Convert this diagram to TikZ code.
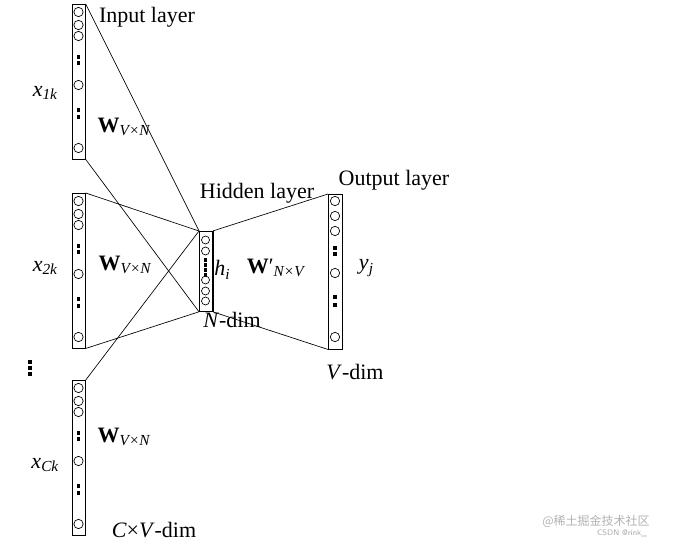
\documentclass[tikz,border=0pt]{standalone}
\usepackage{fontspec}
\setmainfont{Liberation Serif}
\newfontfamily\cjk{Noto Sans CJK SC}
\newcommand{\iv}[1]{\textit{#1}}
\newcommand{\sbs}[1]{\raisebox{-0.35ex}{\fontsize{11.5}{13}\selectfont\textit{#1}}}
\begin{document}
\begin{tikzpicture}[x=0.75pt,y=-0.75pt,
  col/.style={draw,line width=0.6pt},
  neu/.style={draw,line width=0.5pt,circle,inner sep=0pt,minimum size=7pt},
  dt/.style={fill,inner sep=0pt,minimum size=2.8pt},
  lbl/.style={font=\fontsize{16.5}{18}\selectfont,inner sep=0pt},
  ln/.style={line width=0.5pt}]
\useasboundingbox (0,0) rectangle (675,545);
\newcommand{\mycol}[2]{%
  \node[col,minimum width=9.7pt,minimum height=116pt,inner sep=0pt,anchor=north west] (#1) at (72,#2) {};
  \foreach \dy in {8,21,32,81,144} \node[neu] at (78.5,#2+\dy) {};
  \foreach \dy in {53,59,106,113} \node[dt] at (78.5,#2+\dy) {};}
\mycol{c1}{4}
\mycol{c2}{193}
\mycol{c3}{380}
\node[col,minimum width=9.7pt,minimum height=60pt,inner sep=0pt,anchor=north west] (h) at (199,231) {};
\draw[line width=1.2pt] (h.north east) -- (h.south east);
\foreach \y in {240,251,280,291,301} \node[neu,minimum size=6pt] at (205.5,\y) {};
\foreach \y in {260,265,270,275} \node[dt] at (205.5,\y) {};
\node[col,minimum width=10.5pt,minimum height=116pt,inner sep=0pt,anchor=north west] (o) at (328,194) {};
\foreach \y in {201,216,231,273,337} \node[neu] at (335,\y) {};
\foreach \y in {248,254,297,305} \node[dt] at (335,\y) {};
\draw[ln] (c1.north east) -- (h.north west);
\draw[ln] (c1.south east) -- (h.south west);
\draw[ln] (c2.north east) -- (h.north west);
\draw[ln] (c2.south east) -- (h.south west);
\draw[ln] (c3.north east) -- (h.north west);
\draw[ln] (h.north east) -- (o.north west);
\draw[ln] (h.south east) -- (o.south west);
\node[lbl] (t1) at (147,17) {Input layer};
\node[lbl] (t2) at (45,93) {\iv{x}\sbs{1k}};
\node[lbl] (t3) at (124,127) {\textbf{W}\sbs{V×N}};
\node[lbl] (t4) at (45,268) {\iv{x}\sbs{2k}};
\node[lbl] (t5) at (125,265) {\textbf{W}\sbs{V×N}};
\node[lbl] (t6) at (45,465) {\iv{x}\sbs{Ck}};
\node[lbl] (t7) at (124,437) {\textbf{W}\sbs{V×N}};
\node[dt] (d1) at (30,362) {};
\node[dt] (d2) at (30,368) {};
\node[dt] (d3) at (30,374) {};
\node[lbl] (t8) at (154,530) {\iv{C}×\iv{V}-dim};
\node[lbl] (t9) at (257,193) {Hidden layer};
\node[lbl] (t10) at (222,270) {\iv{h}\sbs{i}};
\node[lbl] (t11) at (232,320) {\iv{N}-dim};
\node[lbl] (t12) at (276,268) {\textbf{W}′\sbs{N×V}};
\node[lbl] (t13) at (394,180) {Output layer};
\node[lbl] (t14) at (366,268) {\iv{y}\sbs{j}};
\node[lbl] (t15) at (355,372) {\iv{V}-dim};
\node[inner sep=0pt,text=gray!60,font=\cjk\fontsize{9}{10}\selectfont] (w1) at (596,521) {@稀土掘金技术社区};
\node[inner sep=0pt,text=gray!70,font=\sffamily\fontsize{6}{7}\selectfont] (w2) at (622,533) {CSDN @rink\_};
\end{tikzpicture}
\end{document}
